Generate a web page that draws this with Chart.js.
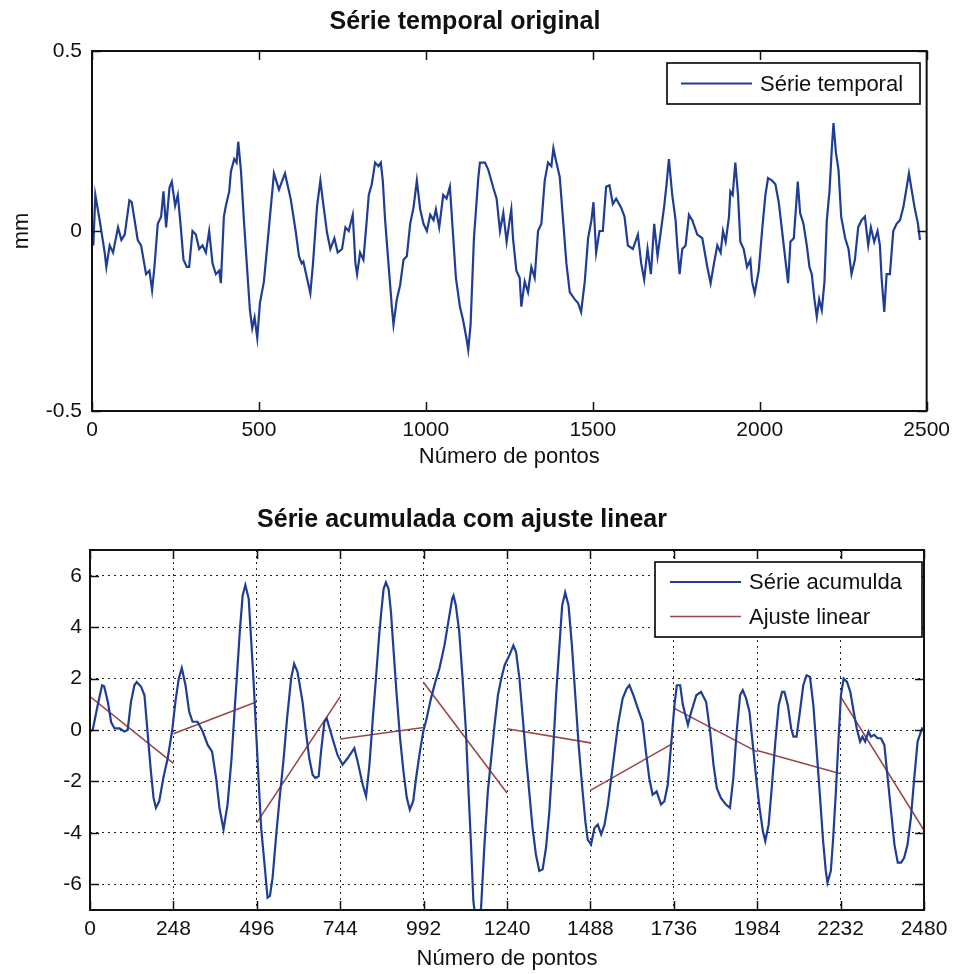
<!DOCTYPE html>
<html lang="pt">
<head>
<meta charset="utf-8">
<title>Série temporal original / Série acumulada com ajuste linear</title>
<script src="https://cdn.jsdelivr.net/npm/chart.js@4.4.1/dist/chart.umd.min.js"></script>
<style>
  html, body { margin: 0; padding: 0; background: #fff; }
  canvas { display: block; }
</style>
</head>
<body>
<canvas id="serieTemporal" width="957" height="480"></canvas>
<canvas id="serieAcumulada" width="957" height="494"></canvas>
<script>
// ---- Série temporal original (mm) ----
const pontosTemporal = [
  0, 4, 10, 23, 38, 43, 53, 63, 78, 88, 98, 112, 119, 137, 147, 162, 172, 180, 187, 197,
  207, 214, 222, 232, 239, 249, 257, 266, 274, 284, 291, 301, 311, 321, 331, 341, 351, 361, 371, 381,
  386, 395, 401, 411, 416, 426, 433, 438, 446, 455, 465, 473, 480, 487, 495, 503, 515, 530, 540, 545,
  560, 578, 595, 610, 620, 628, 633, 654, 662, 674, 684, 692, 704, 714, 726, 736, 749, 759, 769, 781,
  789, 794, 803, 813, 823, 829, 838, 848, 858, 865, 871, 878, 888, 898, 903, 913, 923, 933, 943, 953,
  963, 973, 983, 993, 1003, 1013, 1023, 1030, 1040, 1052, 1062, 1072, 1080, 1090, 1102, 1112, 1122, 1127, 1134, 1144,
  1157, 1162, 1177, 1187, 1202, 1212, 1222, 1232, 1242, 1251, 1256, 1261, 1271, 1281, 1286, 1296, 1306, 1316, 1326, 1336,
  1346, 1356, 1366, 1376, 1382, 1391, 1401, 1411, 1421, 1431, 1446, 1456, 1465, 1476, 1486, 1496, 1502, 1510, 1520, 1530,
  1540, 1550, 1560, 1570, 1585, 1595, 1605, 1620, 1635, 1645, 1654, 1664, 1674, 1684, 1694, 1704, 1714, 1721, 1728, 1738,
  1748, 1753, 1760, 1768, 1778, 1788, 1798, 1813, 1828, 1843, 1853, 1863, 1873, 1883, 1890, 1898, 1908, 1912, 1919, 1927,
  1935, 1942, 1952, 1962, 1972, 1977, 1985, 1997, 2007, 2017, 2025, 2037, 2047, 2057, 2067, 2077, 2085, 2092, 2102, 2109,
  2114, 2121, 2131, 2141, 2149, 2156, 2164, 2171, 2178, 2186, 2194, 2201, 2209, 2216, 2221, 2228, 2236, 2244, 2256, 2266,
  2275, 2285, 2295, 2305, 2315, 2325, 2333, 2343, 2353, 2360, 2365, 2373, 2380, 2390, 2400, 2410, 2420, 2430, 2440, 2447,
  2454, 2464, 2474, 2480
];
const valoresTemporal = [
  0.00, -0.04, 0.10, 0.03, -0.06, -0.10, -0.04, -0.06, 0.01, -0.025, -0.01, 0.085, 0.08, -0.025, -0.04, -0.12, -0.11, -0.165, -0.10, 0.02,
  0.04, 0.11, 0.01, 0.12, 0.137, 0.07, 0.10, 0.01, -0.08, -0.10, -0.10, 0.00, -0.01, -0.05, -0.04, -0.06, 0.00, -0.09, -0.12, -0.11,
  -0.145, 0.04, 0.07, 0.11, 0.165, 0.20, 0.19, 0.248, 0.17, 0.03, -0.11, -0.22, -0.27, -0.24, -0.297, -0.20, -0.14, 0.01, 0.11, 0.16,
  0.115, 0.16, 0.09, 0.00, -0.07, -0.09, -0.085, -0.173, -0.09, 0.068, 0.14, 0.08, -0.005, -0.05, -0.02, -0.06, -0.05, 0.01, 0.00, 0.045,
  -0.09, -0.12, -0.06, -0.08, 0.03, 0.10, 0.13, 0.19, 0.18, 0.19, 0.14, 0.03, -0.09, -0.21, -0.26, -0.19, -0.15, -0.08, -0.07, 0.02,
  0.065, 0.14, 0.06, 0.02, 0.00, 0.045, 0.03, 0.06, 0.01, 0.10, 0.09, 0.123, 0.01, -0.13, -0.21, -0.25, -0.30, -0.33, -0.26, -0.02,
  0.147, 0.19, 0.19, 0.17, 0.12, 0.09, 0.00, 0.05, -0.03, 0.03, 0.06, -0.02, -0.11, -0.13, -0.21, -0.14, -0.17, -0.10, -0.13, 0.00,
  0.02, 0.14, 0.19, 0.18, 0.23, 0.19, 0.15, 0.03, -0.09, -0.17, -0.19, -0.20, -0.225, -0.14, -0.02, 0.03, 0.08, -0.06, 0.00, 0.00,
  0.123, 0.127, 0.075, 0.09, 0.065, 0.04, -0.04, -0.05, -0.01, -0.09, -0.135, -0.05, -0.12, 0.02, -0.07, 0.00, 0.07, 0.13, 0.20, 0.10,
  0.03, -0.04, -0.12, -0.05, -0.04, 0.045, 0.03, -0.01, -0.02, -0.10, -0.145, -0.09, -0.04, -0.06, 0.00, -0.03, 0.04, 0.11, 0.10, 0.19,
  0.10, -0.03, -0.05, -0.10, -0.08, -0.14, -0.173, -0.11, 0.00, 0.10, 0.147, 0.14, 0.13, 0.08, 0.00, -0.08, -0.145, -0.03, -0.02, 0.07,
  0.137, 0.05, 0.02, -0.04, -0.10, -0.12, -0.19, -0.238, -0.19, -0.22, -0.14, 0.03, 0.11, 0.23, 0.30, 0.22, 0.17, 0.04, -0.02, -0.05,
  -0.12, -0.08, 0.01, 0.03, 0.04, -0.04, 0.01, -0.03, 0.00, -0.04, -0.13, -0.225, -0.12, -0.12, 0.00, 0.02, 0.03, 0.065, 0.12, 0.16,
  0.12, 0.065, 0.02, -0.025
];
const marcasXTemporal = [0, 500, 1000, 1500, 2000, 2500];
const marcasYTemporal = [-0.5, 0, 0.5];

// ---- Série acumulada ----
const pontosAcumulada = [
  0, 8, 23, 36, 42, 53, 63, 73, 88, 102, 112, 122, 132, 139, 152, 162, 171, 181, 189, 196,
  206, 218, 231, 244, 254, 264, 273, 284, 295, 305, 320, 335, 350, 363, 375, 385, 397, 409, 421, 431,
  439, 446, 454, 462, 472, 479, 486, 494, 502, 509, 519, 528, 535, 543, 553, 563, 575, 586, 598, 607,
  617, 632, 642, 652, 662, 670, 680, 687, 697, 704, 711, 721, 736, 751, 766, 786, 796, 811, 821, 831,
  841, 851, 859, 866, 873, 880, 888, 895, 903, 912, 922, 932, 942, 951, 961, 971, 981, 991, 1001, 1014,
  1027, 1039, 1054, 1067, 1077, 1081, 1088, 1098, 1108, 1118, 1126, 1133, 1140, 1151, 1163, 1173, 1183, 1193, 1203, 1213,
  1223, 1233, 1247, 1259, 1267, 1277, 1287, 1297, 1307, 1316, 1326, 1336, 1346, 1356, 1366, 1376, 1386, 1396, 1404, 1413,
  1423, 1433, 1443, 1453, 1463, 1473, 1480, 1490, 1500, 1510, 1520, 1530, 1540, 1555, 1570, 1584, 1596, 1604, 1616, 1629,
  1643, 1653, 1663, 1673, 1685, 1698, 1708, 1718, 1728, 1738, 1745, 1755, 1763, 1778, 1788, 1803, 1817, 1832, 1844, 1854,
  1864, 1876, 1891, 1903, 1913, 1923, 1933, 1941, 1951, 1961, 1971, 1981, 1991, 2001, 2008, 2018, 2028, 2038, 2048, 2058,
  2065, 2075, 2085, 2092, 2101, 2111, 2121, 2131, 2141, 2151, 2161, 2171, 2180, 2188, 2193, 2203, 2210, 2218, 2226, 2233,
  2241, 2251, 2261, 2271, 2280, 2290, 2297, 2305, 2315, 2322, 2332, 2342, 2352, 2362, 2372, 2382, 2392, 2402, 2412, 2421,
  2431, 2441, 2451, 2461, 2474, 2480
];
const valoresAcumulada = [
  -0.05, 0.00, 0.97, 1.74, 1.70, 1.10, 0.30, 0.06, 0.06, -0.06, 0.00, 1.10, 1.74, 1.87, 1.68, 1.35, -0.06, -1.60, -2.64, -3.03,
  -2.77, -1.87, -1.10, -0.06, 1.10, 2.00, 2.41, 1.74, 0.71, 0.32, 0.32, -0.06, -0.58, -0.84, -1.87, -3.03, -3.87, -2.90, -1.10, 0.97,
  2.52, 3.94, 5.23, 5.64, 5.10, 3.55, 2.00, -0.06, -2.13, -3.81, -5.23, -6.52, -6.45, -5.74, -4.19, -2.77, -1.23, 0.45, 2.00, 2.58,
  2.26, 1.10, -0.06, -1.10, -1.74, -1.87, -1.80, -0.84, 0.32, 0.45, 0.13, -0.32, -0.97, -1.35, -1.10, -0.71, -1.23, -2.13, -2.58, -1.35,
  0.45, 2.13, 3.55, 4.58, 5.48, 5.74, 5.48, 4.58, 3.03, 1.35, -0.32, -1.60, -2.64, -3.10, -2.77, -1.74, -0.84, -0.06, 0.45, 1.23,
  1.87, 2.39, 3.29, 4.32, 5.10, 5.23, 4.84, 3.81, 2.00, -0.06, -2.52, -4.45, -6.65, -7.90, -6.90, -4.45, -2.39, -1.10, 0.20, 1.35,
  2.00, 2.52, 2.90, 3.29, 3.03, 2.00, 0.45, -1.10, -2.52, -3.81, -4.84, -5.48, -5.42, -4.58, -3.16, -1.10, 1.35, 3.29, 4.84, 5.35,
  4.84, 3.29, 1.35, -0.58, -2.13, -3.55, -4.26, -4.45, -3.81, -3.68, -4.06, -3.68, -2.90, -1.35, 0.20, 1.23, 1.61, 1.74, 1.35, 0.84,
  0.32, -0.84, -1.87, -2.52, -2.39, -2.90, -2.77, -2.13, -0.58, 0.97, 1.74, 1.74, 0.97, 0.20, 0.71, 1.35, 1.48, 1.10, -0.06, -1.35,
  -2.26, -2.64, -2.90, -3.03, -1.87, -0.06, 1.35, 1.55, 1.23, 0.71, -0.58, -1.87, -3.03, -3.94, -4.32, -3.68, -2.13, -0.45, 0.97, 1.48,
  1.48, 0.97, 0.06, -0.26, -0.26, 0.71, 1.74, 2.13, 2.06, 0.97, -0.84, -2.64, -4.32, -5.48, -5.94, -5.48, -4.19, -2.39, -0.32, 1.35,
  2.00, 1.87, 1.48, 0.71, 0.06, -0.45, -0.26, -0.45, -0.06, -0.26, -0.19, -0.32, -0.32, -0.58, -1.87, -3.16, -4.45, -5.16, -5.16, -4.97,
  -4.45, -3.42, -1.87, -0.45, 0.06, 0.00
];

// ---- Ajuste linear por janela de 248 pontos ----
const inicioJanela = [0, 248, 496, 744, 992, 1240, 1488, 1736, 1984, 2232];
const fimJanela    = [248, 496, 744, 992, 1240, 1488, 1736, 1984, 2232, 2480];
const ajusteInicio = [1.30, -0.15, -3.60, -0.35, 1.85, 0.05, -2.35, 0.85, -0.80, 1.30];
const ajusteFim    = [-1.30, 1.10, 1.30, 0.10, -2.45, -0.50, -0.50, -0.85, -1.70, -3.90];

const marcasXAcumulada = [0, 248, 496, 744, 992, 1240, 1488, 1736, 1984, 2232, 2480];
const marcasYAcumulada = [-6, -4, -2, 0, 2, 4, 6];

// ---- helpers ----
const pares = (xs, ys) => xs.map((x, i) => ({ x, y: ys[i] }));
const retasAjuste = [];
inicioJanela.forEach((x0, i) => {
  retasAjuste.push({ x: x0, y: ajusteInicio[i] });
  retasAjuste.push({ x: fimJanela[i], y: ajusteFim[i] });
  retasAjuste.push({ x: fimJanela[i], y: null });
});

const FONTE = "'Liberation Sans', Arial, Helvetica, sans-serif";
const AZUL = '#1f3d94';
const VERMELHO = '#9c4646';

// box round the plot area with inward tick marks on all four sides
const eixosCaixa = {
  id: 'eixosCaixa',
  afterDatasetsDraw(chart, args, opts) {
    const { ctx, chartArea: a, scales: { x, y } } = chart;
    const len = opts.tickLength;
    ctx.save();
    ctx.strokeStyle = opts.color;
    ctx.lineWidth = opts.tickWidth;
    ctx.beginPath();
    x.ticks.forEach(t => {
      const px = Math.round(x.getPixelForValue(t.value)) + 0.5;
      ctx.moveTo(px, a.bottom); ctx.lineTo(px, a.bottom - len);
      ctx.moveTo(px, a.top); ctx.lineTo(px, a.top + len);
    });
    y.ticks.forEach(t => {
      const py = Math.round(y.getPixelForValue(t.value)) + 0.5;
      ctx.moveTo(a.left, py); ctx.lineTo(a.left + len, py);
      ctx.moveTo(a.right, py); ctx.lineTo(a.right - len, py);
    });
    ctx.stroke();
    ctx.lineWidth = opts.boxWidth;
    ctx.strokeRect(a.left, a.top, a.right - a.left, a.bottom - a.top);
    ctx.restore();
  }
};

// legend drawn inside the plot area, in an opaque framed box
const legendaCaixa = {
  id: 'legendaCaixa',
  afterDatasetsDraw(chart, args, o) {
    const { ctx } = chart;
    ctx.save();
    ctx.fillStyle = '#fff';
    ctx.fillRect(o.left, o.top, o.width, o.height);
    ctx.strokeStyle = '#000';
    ctx.lineWidth = 1.6;
    ctx.strokeRect(o.left, o.top, o.width, o.height);
    ctx.font = o.font;
    ctx.textBaseline = 'middle';
    ctx.textAlign = 'left';
    chart.data.datasets.forEach((ds, i) => {
      const yy = o.top + o.firstRow + i * o.rowStep;
      ctx.strokeStyle = ds.borderColor;
      ctx.lineWidth = ds.borderWidth;
      ctx.beginPath();
      ctx.moveTo(o.left + o.lineFrom, yy);
      ctx.lineTo(o.left + o.lineTo, yy);
      ctx.stroke();
      ctx.fillStyle = '#111';
      ctx.fillText(ds.label, o.left + o.textX, yy + 1);
    });
    ctx.restore();
  }
};

const ticksFixos = (marcas) => (axis) => { axis.ticks = marcas.map(v => ({ value: v })); };

// ---- Chart 1: série temporal ----
new Chart(document.getElementById('serieTemporal'), {
  type: 'scatter',
  data: {
    datasets: [{
      label: 'Série temporal',
      data: pares(pontosTemporal, valoresTemporal),
      showLine: true,
      borderColor: AZUL,
      borderWidth: 2.2,
      pointRadius: 0,
      tension: 0
    }]
  },
  options: {
    responsive: false,
    animation: false,
    events: [],
    layout: { padding: { top: 0, left: 0, right: 27, bottom: 0 } },
    plugins: {
      legend: { display: false },
      tooltip: { enabled: false },
      title: {
        display: true,
        text: 'Série temporal original',
        color: '#111',
        font: { family: FONTE, size: 25, weight: 'bold' },
        padding: { top: 7, bottom: 14 }
      },
      eixosCaixa: { tickLength: 9, tickWidth: 1.5, boxWidth: 2, color: '#111' },
      legendaCaixa: {
        left: 667, top: 63, width: 253, height: 41,
        firstRow: 20.5, rowStep: 34,
        lineFrom: 14, lineTo: 85, textX: 93,
        font: '22px ' + FONTE
      }
    },
    scales: {
      x: {
        type: 'linear', min: 0, max: 2500,
        afterBuildTicks: ticksFixos(marcasXTemporal),
        afterFit: (s) => { s.height = 69; },
        grid: { display: false, drawTicks: false },
        border: { display: false },
        ticks: { color: '#111', padding: 7, font: { family: FONTE, size: 21 }, callback: v => String(v), maxRotation: 0 },
        title: { display: true, text: 'Número de pontos', color: '#111', font: { family: FONTE, size: 22 }, padding: { top: 0, bottom: 10 } }
      },
      y: {
        type: 'linear', min: -0.5, max: 0.5,
        afterBuildTicks: ticksFixos(marcasYTemporal),
        afterFit: (s) => { s.width = 92; },
        grid: { display: false, drawTicks: false },
        border: { display: false },
        ticks: { color: '#111', padding: 10, font: { family: FONTE, size: 21 }, callback: v => String(v) },
        title: { display: true, text: 'mm', color: '#111', font: { family: FONTE, size: 22 }, padding: { top: 9, bottom: 0 } }
      }
    }
  },
  plugins: [eixosCaixa, legendaCaixa]
});

// ---- Chart 2: série acumulada com ajuste linear ----
new Chart(document.getElementById('serieAcumulada'), {
  type: 'scatter',
  data: {
    datasets: [{
      label: 'Série acumulda',
      data: pares(pontosAcumulada, valoresAcumulada),
      showLine: true,
      borderColor: AZUL,
      borderWidth: 2.2,
      pointRadius: 0,
      tension: 0
    }, {
      label: 'Ajuste linear',
      data: retasAjuste,
      showLine: true,
      spanGaps: false,
      borderColor: VERMELHO,
      borderWidth: 1.6,
      pointRadius: 0,
      tension: 0
    }]
  },
  options: {
    responsive: false,
    animation: false,
    events: [],
    layout: { padding: { top: 0, left: 0, right: 33, bottom: 0 } },
    plugins: {
      legend: { display: false },
      tooltip: { enabled: false },
      title: {
        display: true,
        text: 'Série acumulada com ajuste linear',
        color: '#111',
        font: { family: FONTE, size: 25, weight: 'bold' },
        padding: { top: 25.5, bottom: 14.5 }
      },
      eixosCaixa: { tickLength: 9, tickWidth: 1.5, boxWidth: 2, color: '#111' },
      legendaCaixa: {
        left: 655, top: 82, width: 267, height: 75,
        firstRow: 20, rowStep: 34.5,
        lineFrom: 15, lineTo: 86, textX: 94,
        font: '22px ' + FONTE
      }
    },
    scales: {
      x: {
        type: 'linear', min: 0, max: 2480,
        afterBuildTicks: ticksFixos(marcasXAcumulada),
        afterFit: (s) => { s.height = 64; },
        grid: { color: '#222', lineWidth: 1, drawTicks: false },
        border: { display: false, dash: [2, 4] },
        ticks: { color: '#111', padding: 7, font: { family: FONTE, size: 21 }, callback: v => String(v), maxRotation: 0 },
        title: { display: true, text: 'Número de pontos', color: '#111', font: { family: FONTE, size: 22 }, padding: { top: 0, bottom: 2 } }
      },
      y: {
        type: 'linear', min: -7, max: 7,
        afterBuildTicks: ticksFixos(marcasYAcumulada),
        afterFit: (s) => { s.width = 90; },
        grid: { color: '#222', lineWidth: 1, drawTicks: false },
        border: { display: false, dash: [2, 4] },
        ticks: { color: '#111', padding: 8, font: { family: FONTE, size: 21 }, callback: v => String(v) }
      }
    }
  },
  plugins: [eixosCaixa, legendaCaixa]
});
</script>
</body>
</html>
